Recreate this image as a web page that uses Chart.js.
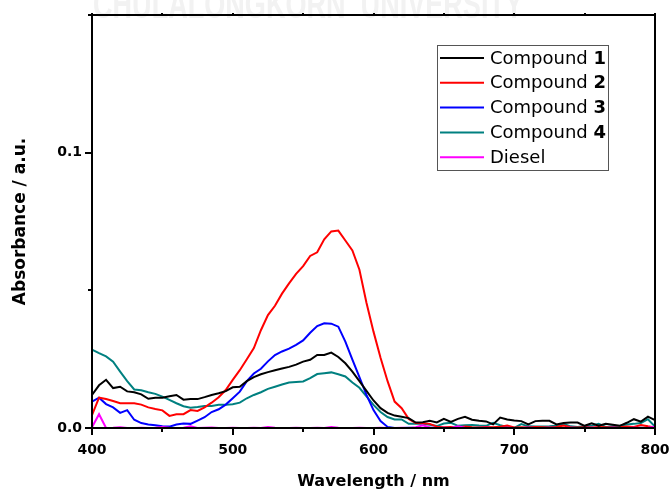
<!DOCTYPE html>
<html>
<head>
<meta charset="utf-8">
<script src="https://cdn.jsdelivr.net/npm/chart.js@4.4.1/dist/chart.umd.min.js"></script>
<style>
  html, body { margin: 0; padding: 0; background: #fff; }
  #wrap { width: 670px; height: 494px; }
</style>
</head>
<body>
<div id="wrap"><canvas id="myChart" width="670" height="494"></canvas></div>
<script>
// longitudes de onda (nm), paso de 5 nm
const wavelengths = [
  400, 405, 410, 415, 420, 425, 430, 435, 440, 445, 450, 455, 460, 465, 470, 475, 480, 485, 490, 495,
  500, 505, 510, 515, 520, 525, 530, 535, 540, 545, 550, 555, 560, 565, 570, 575, 580, 585, 590, 595,
  600, 605, 610, 615, 620, 625, 630, 635, 640, 645, 650, 655, 660, 665, 670, 675, 680, 685, 690, 695,
  700, 705, 710, 715, 720, 725, 730, 735, 740, 745, 750, 755, 760, 765, 770, 775, 780, 785, 790, 795, 800
];

// absorbancias (x 1e-3)
const compound1 = [
  12.0, 15.5, 17.5, 14.5, 15.0, 13.3, 13.0, 12.2, 10.6, 11.0, 11.0, 11.5, 12.0, 10.3, 10.5, 10.5, 11.2, 12.0, 12.6, 13.4,
  14.8, 15.0, 17.0, 18.5, 19.5, 20.3, 21.0, 21.6, 22.2, 23.0, 24.1, 24.8, 26.5, 26.5, 27.4, 25.8, 23.5, 20.5, 17.0, 13.5,
  10.0, 7.2, 5.5, 4.5, 4.1, 3.6, 2.0, 2.1, 2.6, 2.0, 3.3, 2.2, 3.3, 4.1, 3.0, 2.6, 2.4, 1.3, 3.8, 3.1,
  2.7, 2.5, 1.3, 2.5, 2.6, 2.6, 1.3, 1.8, 2.0, 2.0, 0.8, 1.7, 0.8, 1.5, 1.2, 0.8, 1.9, 3.2, 2.3, 4.1, 2.9
];
const compound2 = [
  4.7, 11.0, 10.5, 9.8, 9.0, 9.0, 9.0, 8.5, 7.5, 6.9, 6.4, 4.4, 5.0, 5.0, 6.5, 6.2, 7.5, 9.2, 11.2, 13.8,
  17.5, 21.0, 25.0, 29.0, 35.5, 41.0, 44.4, 48.8, 52.5, 56.0, 58.8, 62.5, 63.8, 68.5, 71.4, 71.7, 68.1, 64.5, 57.5, 45.5,
  35.0, 25.5, 17.0, 9.6, 7.2, 3.3, 1.8, 1.7, 1.5, 0.5, 0.3, 0.4, 0.2, 0.5, 0.3, 0.2, 0.4, 0.3, 0.5, 0.9,
  0.2, 0.3, 0.2, 0.4, 0.3, 0.2, 0.4, 0.9, 0.3, 0.2, 0.3, 0.2, 0.4, 0.3, 0.2, 0.3, 0.5, 0.4, 1.1, 0.6, 0.2
];
const compound3 = [
  9.6, 11.0, 8.7, 7.5, 5.5, 6.5, 3.0, 1.8, 1.3, 1.0, 0.6, 0.5, 1.3, 1.6, 1.5, 2.7, 3.9, 5.8, 6.8, 8.5,
  10.8, 13.2, 17.0, 19.8, 21.5, 24.2, 26.5, 27.8, 28.8, 30.2, 31.8, 34.6, 37.0, 38.0, 37.9, 36.8, 31.4, 24.8, 18.5, 12.0,
  6.5, 2.5, 0.4, 0.0, 0.0, 0.1, 0.0, 0.0, 0.1, 0.0, 0.0, 0.1, 0.0, 0.0, 0.0, 0.1, 0.0, 0.0, 0.0, 0.1,
  0.0, 0.0, 0.1, 0.0, 0.0, 0.0, 0.1, 0.0, 0.0, 0.0, 0.1, 0.0, 0.0, 0.0, 0.1, 0.0, 0.0, 0.0, 0.1, 0.0, 0.0
];
const compound4 = [
  28.5, 27.2, 26.0, 24.1, 20.5, 17.0, 14.0, 13.7, 13.0, 12.4, 11.4, 10.2, 9.0, 7.9, 7.4, 7.6, 8.0, 8.0, 8.4, 8.4,
  8.6, 9.2, 10.8, 12.0, 13.0, 14.2, 15.0, 15.8, 16.5, 16.7, 16.9, 18.1, 19.6, 19.9, 20.2, 19.5, 18.7, 16.5, 14.6, 11.5,
  8.4, 5.8, 4.0, 3.1, 3.1, 1.5, 1.5, 1.5, 1.2, 0.7, 1.6, 1.9, 0.8, 1.0, 1.1, 0.9, 0.8, 1.9, 1.0, 0.4,
  0.0, 1.4, 0.6, 0.5, 0.5, 0.6, 0.8, 1.5, 0.6, 0.4, 0.7, 0.8, 1.5, 0.4, 0.6, 0.8, 1.3, 1.5, 1.8, 3.2, 0.5
];
const diesel = [
  0.3, 5.0, 0.0, 0.1, 0.3, 0.0, 0.0, 0.1, 0.0, 0.1, 0.4, 0.1, 0.0, 0.1, 0.6, 0.0, 0.1, 0.2, 0.0, 0.0,
  0.1, 0.0, 0.0, 0.1, 0.0, 0.4, 0.1, 0.0, 0.0, 0.1, 0.0, 0.0, 0.1, 0.0, 0.4, 0.1, 0.0, 0.0, 0.1, 0.0,
  0.0, 0.1, 0.0, 0.0, 0.1, 0.0, 0.3, 1.0, 0.2, 0.0, 0.1, 0.0, 0.6, 0.1, 0.0, 0.0, 0.1, 0.0, 0.0, 0.1,
  0.0, 0.0, 0.1, 0.0, 0.0, 0.1, 0.0, 0.0, 0.1, 0.0, 0.0, 0.1, 0.0, 0.0, 0.1, 0.0, 0.0, 0.1, 0.0, 0.1, 0.5
];

const seriesNames = ["Compound 1", "Compound 2", "Compound 3", "Compound 4", "Diesel"];
const seriesColors = ["#000000", "#ff0000", "#0000ff", "#008080", "#ff00ff"];
const seriesValues = [compound1, compound2, compound3, compound4, diesel];

const xTicks = [400, 500, 600, 700, 800];
const yTicks = [0.0, 0.1];

const FONT = "'DejaVu Sans', sans-serif";

function toPoints(valores) {
  return wavelengths.map((w, i) => ({ x: w, y: valores[i] / 1000 }));
}

// marca de agua, marco, marcas de ejes
const framePlugin = {
  id: "frame",
  beforeDraw(chart) {
    const ctx = chart.ctx;
    const area = chart.chartArea;
    ctx.save();
    ctx.fillStyle = "#f2f2f2";
    ctx.font = "bold 40px 'Liberation Sans', sans-serif";
    ctx.textBaseline = "alphabetic";
    const txt = "CHULALONGKORN  UNIVERSITY";
    const w = ctx.measureText(txt).width;
    ctx.translate(93, area.top + 3);
    ctx.scale(430 / w, 1);
    ctx.fillText(txt, 0, 0);
    ctx.restore();
  },
  afterDatasetsDraw(chart) {
    const ctx = chart.ctx;
    const area = chart.chartArea;
    const xs = chart.scales.x;
    const ys = chart.scales.y;
    ctx.save();
    ctx.strokeStyle = "#000";
    ctx.lineWidth = 2;
    ctx.strokeRect(area.left, area.top, area.right - area.left, area.bottom - area.top);

    ctx.lineWidth = 2;
    ctx.beginPath();
    xs.ticks.forEach((t) => {
      const px = Math.round(xs.getPixelForValue(t.value));
      const major = t.value % 100 === 0;
      ctx.moveTo(px, area.bottom);
      ctx.lineTo(px, area.bottom + (major ? 7 : 4));
      ctx.moveTo(px, area.top);
      ctx.lineTo(px, area.top - 2);
    });
    ys.ticks.forEach((t) => {
      const py = Math.round(ys.getPixelForValue(t.value));
      const major = Math.abs(t.value * 10 - Math.round(t.value * 10)) < 1e-6;
      ctx.moveTo(area.left, py);
      ctx.lineTo(area.left - (major ? 7 : 4), py);
    });
    ctx.stroke();
    ctx.restore();
  },
  afterDraw(chart) {
    // leyenda con el número en negrita
    const ctx = chart.ctx;
    ctx.save();
    ctx.fillStyle = "#fff";
    ctx.fillRect(437, 45, 171, 125);
    ctx.strokeStyle = "#555";
    ctx.lineWidth = 1;
    ctx.strokeRect(437.5, 45.5, 171, 125);
    chart.data.datasets.forEach((ds, i) => {
      const y = 58 + i * 24.8;
      ctx.strokeStyle = ds.borderColor;
      ctx.lineWidth = 2;
      ctx.beginPath();
      ctx.moveTo(440, y);
      ctx.lineTo(484, y);
      ctx.stroke();
      ctx.fillStyle = "#000";
      ctx.textBaseline = "middle";
      const partes = ds.label.split(" ");
      const num = partes.length > 1 ? partes.pop() : "";
      const base = partes.join(" ") + (num ? " " : "");
      ctx.font = "18px " + FONT;
      ctx.fillText(base, 490, y + 1);
      if (num) {
        const bw = ctx.measureText(base).width;
        ctx.font = "bold 18px " + FONT;
        ctx.fillText(num, 490 + bw, y + 1);
      }
    });
    ctx.restore();
  }
};

const config = {
  type: "line",
  data: {
    datasets: seriesNames.map((nombre, i) => ({
      label: nombre,
      data: toPoints(seriesValues[i]),
      borderColor: seriesColors[i],
      backgroundColor: seriesColors[i],
      borderWidth: 2,
      pointRadius: 0,
      tension: 0,
      fill: false,
      order: i === 4 ? -1 : i
    }))
  },
  options: {
    responsive: false,
    animation: false,
    events: [],
    layout: { padding: { top: 15, right: 15, left: 0, bottom: 0 } },
    plugins: {
      legend: { display: false },
      tooltip: { enabled: false }
    },
    scales: {
      x: {
        type: "linear",
        min: 400,
        max: 800,
        afterFit: (scale) => {
          scale.height = 66;
          scale.paddingLeft = 0;
          scale.paddingRight = 0;
        },
        afterBuildTicks: (scale) => {
          const t = [];
          for (let v = 400; v <= 800; v += 50) t.push({ value: v });
          scale.ticks = t;
        },
        grid: { display: false, drawTicks: false },
        border: { display: false },
        ticks: {
          padding: 14,
          color: "#000",
          font: { family: FONT, weight: "bold", size: 14 },
          maxRotation: 0,
          autoSkip: false,
          callback: (v) => (xTicks.includes(v) ? String(v) : "")
        },
        title: {
          display: true,
          text: "Wavelength / nm",
          color: "#000",
          font: { family: FONT, weight: "bold", size: 16 },
          padding: { top: 5, bottom: 3 }
        }
      },
      y: {
        type: "linear",
        min: 0,
        max: 0.15,
        afterFit: (scale) => {
          scale.width = 92;
          scale.paddingTop = 0;
          scale.paddingBottom = 0;
        },
        afterBuildTicks: (scale) => {
          scale.ticks = [0, 0.05, 0.1, 0.15].map((v) => ({ value: v }));
        },
        grid: { display: false, drawTicks: false },
        border: { display: false },
        ticks: {
          padding: 10,
          color: "#000",
          font: { family: FONT, weight: "bold", size: 14 },
          autoSkip: false,
          callback: (v) => {
            const hit = yTicks.find((t) => Math.abs(t - v) < 1e-9);
            return hit === undefined ? "" : hit.toFixed(1);
          }
        },
        title: {
          display: true,
          text: "Absorbance / a.u.",
          color: "#000",
          font: { family: FONT, weight: "bold", size: 17 },
          padding: { top: 10, bottom: 0 }
        }
      }
    }
  },
  plugins: [framePlugin]
};

new Chart(document.getElementById("myChart"), config);
</script>
</body>
</html>
